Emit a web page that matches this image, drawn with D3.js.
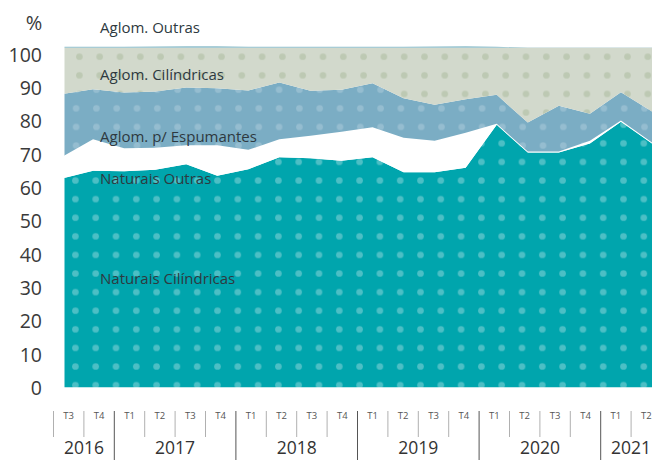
<!DOCTYPE html>
<html>
<head>
<meta charset="utf-8">
<script src="https://cdn.jsdelivr.net/npm/d3@7"></script>
<style>
  html, body { margin: 0; padding: 0; background: #fff; }
  svg { display: block; font-family: "Open Sans", sans-serif; }
</style>
</head>
<body>
<svg id="chart" width="657" height="460"></svg>
<script>
// ---- data ----
const years = ["2016", "2017", "2018", "2019", "2020", "2021"];
const quarters = ["T3","T4","T1","T2","T3","T4","T1","T2","T3","T4","T1","T2","T3","T4","T1","T2","T3","T4","T1","T2"];
const quarterYear = ["2016","2016","2017","2017","2017","2017","2018","2018","2018","2018","2019","2019","2019","2019","2020","2020","2020","2020","2021","2021"];
const seriesNames = ["Naturais Cilíndricas", "Naturais Outras", "Aglom. p/ Espumantes", "Aglom. Cilíndricas", "Aglom. Outras"];
const naturaisCilindricas = [62.7,65.0,64.9,65.3,67.0,63.5,65.5,69.1,68.8,68.0,69.1,64.6,64.6,65.9,78.8,70.5,70.5,73.2,79.7,73.2];
const naturaisOutras      = [6.5,9.5,6.9,6.6,5.7,9.2,5.8,5.4,6.7,8.7,9.0,10.3,9.4,10.5,0.3,0.3,0.3,0.8,0.4,0.3];
const aglomEspumantes     = [18.8,15.0,16.7,16.9,17.3,17.1,17.8,17.0,13.5,12.6,13.2,11.9,10.8,10.1,8.7,8.7,13.7,8.1,8.5,9.3];
const aglomCilindricas    = [13.9,12.4,13.4,13.1,11.9,12.1,12.8,10.4,12.9,12.6,10.6,15.1,17.1,15.4,14.1,22.4,17.4,19.8,13.3,19.1];
const aglomOutras         = [0.3,0.3,0.3,0.4,0.5,0.5,0.3,0.3,0.3,0.3,0.3,0.3,0.4,0.5,0.3,0.1,0.1,0.1,0.1,0.1];
const yTicks = [0,10,20,30,40,50,60,70,80,90,100];

const table = quarters.map((q, i) => ({
  i: i,
  "Naturais Cilíndricas": naturaisCilindricas[i],
  "Naturais Outras": naturaisOutras[i],
  "Aglom. p/ Espumantes": aglomEspumantes[i],
  "Aglom. Cilíndricas": aglomCilindricas[i],
  "Aglom. Outras": aglomOutras[i]
}));

const svg = d3.select("#chart");
const plotL = 64.5, plotR = 652, plotT = 0, plotB = 387.5;

const x = d3.scaleLinear().domain([0, quarters.length - 1]).range([62, 652]);
const y = d3.scaleLinear().domain([0, 100]).range([387.5, 54.2]);
const xb = d3.scaleBand().domain(d3.range(quarters.length)).range([53.5, 661.5]);

// ---- patterns ----
const defs = svg.append("defs");
function dotPattern(id, bg, dot, ox, oy) {
  const w = 20.3, h = 18.6;
  const p = defs.append("pattern").attr("id", id)
    .attr("patternUnits", "userSpaceOnUse")
    .attr("x", ox - w / 2).attr("y", oy - h / 2)
    .attr("width", w).attr("height", h);
  p.append("rect").attr("width", w).attr("height", h).attr("fill", bg);
  p.append("circle").attr("cx", w / 2).attr("cy", h / 2).attr("r", 3.3).attr("fill", dot);
  return `url(#${id})`;
}
const fills = {
  "Naturais Cilíndricas": dotPattern("pTeal", "#00a5ad", "#4cbfc5", 14.5, 13.1),
  "Naturais Outras": "#ffffff",
  "Aglom. p/ Espumantes": dotPattern("pBlue", "#7badc4", "#95bdd0", 15.2, 15.3),
  "Aglom. Cilíndricas": dotPattern("pGray", "#d2d9cc", "#bdc9b3", 18.5, 0.9),
  "Aglom. Outras": "#8fbfcb"
};

defs.append("clipPath").attr("id", "plotClip")
  .append("rect").attr("x", plotL).attr("y", plotT)
  .attr("width", plotR - plotL).attr("height", plotB - plotT);

const stack = d3.stack().keys(seriesNames);
const layers = stack(table);
const area = d3.area()
  .x(d => x(d.data.i))
  .y0(d => y(d[0]))
  .y1(d => y(d[1]));

svg.append("g").attr("clip-path", "url(#plotClip)")
  .selectAll("path").data(layers).join("path")
  .attr("d", area)
  .attr("fill", d => fills[d.key]);

// ---- y axis labels ----
svg.append("g").selectAll("text").data(yTicks).join("text")
  .attr("x", 42).attr("y", d => y(d))
  .attr("text-anchor", "end").attr("dominant-baseline", "central")
  .attr("font-size", 19.5).attr("fill", "#3a3a3a")
  .text(d => d);
svg.append("text").attr("x", 34).attr("y", 22)
  .attr("text-anchor", "middle").attr("dominant-baseline", "central")
  .attr("font-size", 20).attr("fill", "#3a3a3a").text("%");

// ---- series labels ----
const labelPos = [
  ["Aglom. Outras", 33],
  ["Aglom. Cilíndricas", 80],
  ["Aglom. p/ Espumantes", 142],
  ["Naturais Outras", 184],
  ["Naturais Cilíndricas", 284]
];
svg.append("g").selectAll("text").data(labelPos).join("text")
  .attr("x", 100).attr("y", d => d[1])
  .attr("font-size", 15).attr("fill", "#2e3940")
  .text(d => d[0]);

// ---- x axis ----
const xg = svg.append("g");
xg.selectAll("text.q").data(quarters).join("text").attr("class", "q")
  .attr("x", (d, i) => xb(i) + xb.bandwidth() / 2).attr("y", 415)
  .attr("text-anchor", "middle").attr("dominant-baseline", "central")
  .attr("font-size", 9.5).attr("fill", "#555").text(d => d);

// separators
quarters.forEach((q, i) => {
  const isYearStart = i > 0 && quarterYear[i] !== quarterYear[i - 1];
  xg.append("line")
    .attr("x1", xb(i)).attr("x2", xb(i))
    .attr("y1", 411).attr("y2", isYearStart ? 460 : 437)
    .attr("stroke", isYearStart ? "#555" : "#b0b0b0").attr("stroke-width", 1);
});

// year labels
years.forEach(yr => {
  const idx = quarterYear.map((v, i) => v === yr ? i : -1).filter(i => i >= 0);
  const x0 = xb(idx[0]), x1 = xb(idx[idx.length - 1]) + xb.bandwidth();
  xg.append("text")
    .attr("x", (x0 + x1) / 2).attr("y", 447)
    .attr("text-anchor", "middle").attr("dominant-baseline", "central")
    .attr("font-size", 17.5).attr("fill", "#333").text(yr);
});
</script>
</body>
</html>
